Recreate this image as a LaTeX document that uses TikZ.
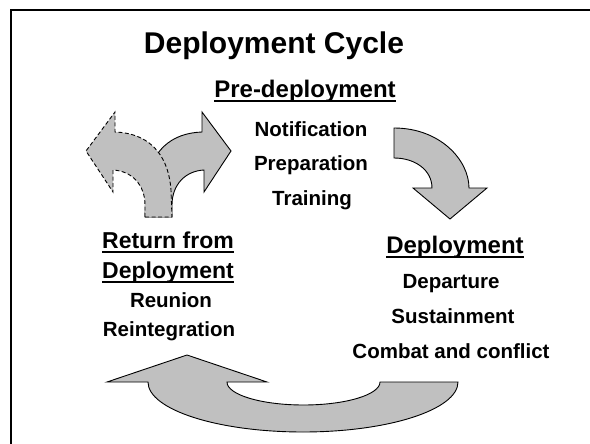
\documentclass[tikz,border=0pt]{standalone}
\usepackage{fontspec}
\setmainfont{Liberation Sans}
\definecolor{arrgray}{RGB}{192,192,192}
\newcommand\myul[1]{\setbox0\hbox{#1}\rlap{\vrule width\wd0 height -2.5pt depth 4.5pt}\box0}
\tikzset{
  lbl/.style={anchor=base, inner sep=0pt, font=\fontsize{20.5}{24}\selectfont\bfseries},
  hd/.style={anchor=base, inner sep=0pt, font=\fontsize{24}{28}\selectfont\bfseries},
  arrowshape/.style={fill=arrgray, draw=black, line width=0.9pt, line join=miter},
  dashedshape/.style={arrowshape, dash pattern=on 4pt off 2.5pt},
  frame/.style={line width=2pt, draw=black}
}
\begin{document}
\begin{tikzpicture}[x=1pt, y=-1pt]
\useasboundingbox (0,0) rectangle (590,444);
\fill[white] (0,0) rectangle (590,444);
% frame
\draw[frame] (591,10) -- (11,10) -- (11,445);

% right curved arrow (solid), mirror of the dashed one
\begin{scope}[xshift=317pt, xscale=-1]
\path[arrowshape] (145,217) -- (172,217) -- (171,190) .. controls (168,150) and (145,133) .. (115,132) -- (115,112) -- (86,151) -- (113,192) -- (113,170) .. controls (132,171) and (145,185) .. (145,205) -- cycle;
\end{scope}
% left curved arrow (dashed)
\path[dashedshape] (145,217) -- (172,217) -- (171,190) .. controls (168,150) and (145,133) .. (115,132) -- (115,112) -- (86,151) -- (113,192) -- (113,170) .. controls (132,171) and (145,185) .. (145,205) -- cycle;

% top-right arrow curving down
\path[arrowshape] (394,128) .. controls (440,128) and (469,160) .. (469,188) -- (487,188) -- (450,219) -- (413,188) -- (432,188) .. controls (432,170) and (415,158) .. (394,158) -- cycle;

% bottom arrow
\path[arrowshape] (107,382) -- (187,355) -- (267,382) -- (227,382)
  .. controls (227,394.7) and (261.25,405) .. (303.5,405)
  .. controls (345.75,405) and (380,394.7) .. (380,382)
  -- (458,382)
  .. controls (458,409.6) and (388.6,432) .. (303,432)
  .. controls (217.4,432) and (148,409.6) .. (148,382) -- cycle;

% texts
\node[anchor=base, inner sep=0pt, font=\fontsize{30}{36}\selectfont\bfseries] (title) at (274,54) {Deployment Cycle};

\node[hd] (pre) at (305,98) {\myul{Pre-deployment}};
\node[lbl] (notif) at (311,137) {Notification};
\node[lbl] (prep) at (311,171) {Preparation};
\node[lbl] (train) at (312,205) {Training};

\node[hd] (dep) at (455,253) {\myul{Deployment}};
\node[lbl] (depart) at (451,288) {Departure};
\node[lbl] (sust) at (453,323) {Sustainment};
\node[lbl] (combat) at (451,358) {Combat and conflict};

\node[hd, font=\fontsize{23}{27}\selectfont\bfseries] (ret1) at (168,248) {\myul{Return from}};
\node[hd, font=\fontsize{23}{27}\selectfont\bfseries] (ret2) at (168,278) {\myul{Deployment}};
\node[lbl] (reun) at (171,307) {Reunion};
\node[lbl] (reint) at (169,336) {Reintegration};
\end{tikzpicture}
\end{document}
